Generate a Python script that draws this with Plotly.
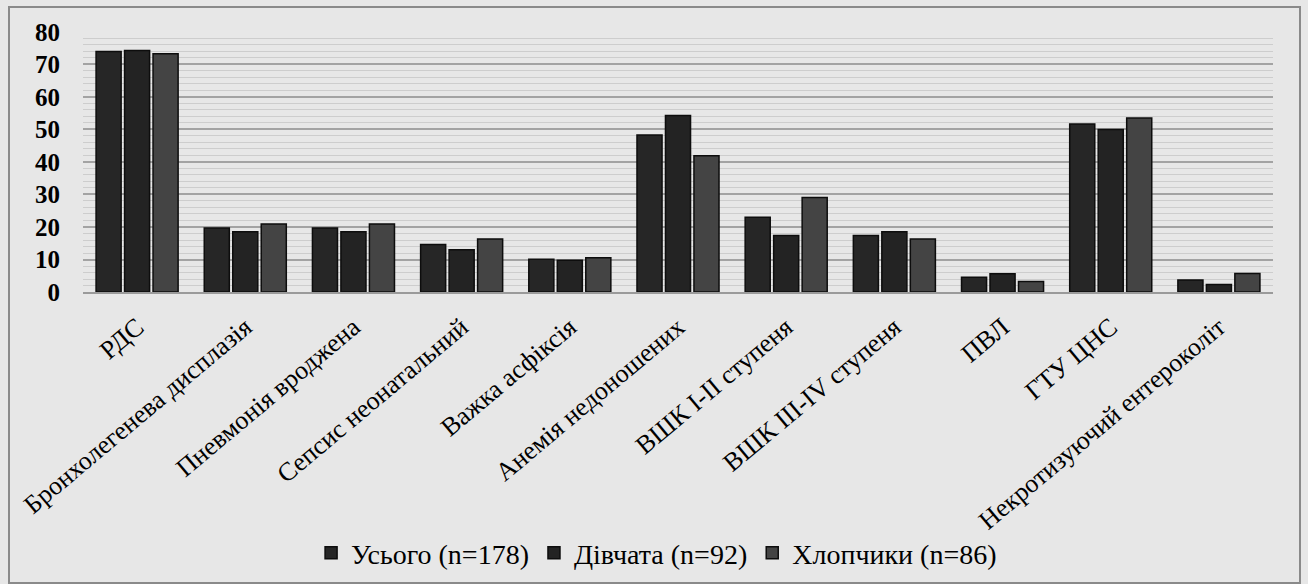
import plotly.graph_objects as go

categories = [
    "РДС",
    "Бронхолегенева дисплазія",
    "Пневмонія вроджена",
    "Сепсис неонатальний",
    "Важка асфіксія",
    "Анемія недоношених",
    "ВШК I-II ступеня",
    "ВШК III-IV ступеня",
    "ПВЛ",
    "ГТУ ЦНС",
    "Некротизуючий ентероколіт",
]

total = [74.0, 19.7, 19.7, 14.6, 10.1, 48.3, 23.0, 17.4, 4.5, 51.7, 3.7]
girls = [74.3, 18.5, 18.5, 13.0, 9.8, 54.3, 17.4, 18.5, 5.6, 50.0, 2.3]
boys = [73.3, 20.9, 20.9, 16.3, 10.5, 41.9, 29.1, 16.3, 3.2, 53.5, 5.7]

series_names = ["Усього (n=178)", "Дівчата (n=92)", "Хлопчики (n=86)"]
y_ticks = [0, 10, 20, 30, 40, 50, 60, 70, 80]

series_values = [total, girls, boys]
fills = ["#262626", "#232323", "#444444"]

fig = go.Figure()
for name, vals, col in zip(series_names, series_values, fills):
    fig.add_trace(go.Bar(
        x=categories, y=vals, name=name,
        marker=dict(color=col, line=dict(color="#0d0d0d", width=1.5)),
    ))

bg = "#e7e7e7"
serif = "Liberation Serif, Times New Roman, serif"
fig.update_layout(
    width=1308, height=584,
    margin=dict(l=83, r=35, t=31, b=292, autoexpand=False),
    paper_bgcolor=bg, plot_bgcolor=bg,
    barmode="group", bargap=0.21, bargroupgap=0.12,
    font=dict(family=serif, color="#000000"),
    showlegend=True,
    legend=dict(
        orientation="h", x=0.482, xanchor="center", y=-1.0, yanchor="middle",
        font=dict(size=28, family=serif),
        bgcolor="rgba(0,0,0,0)", itemwidth=30, traceorder="normal",
    ),
)

fig.update_yaxes(
    range=[0, 80.3], tickvals=y_ticks, automargin=False,
    tickfont=dict(size=25, family=serif, weight="bold"),
    showgrid=True, gridcolor="#a3a3a3", gridwidth=1.6,
    minor=dict(dtick=2, showgrid=True, gridcolor="#cdcdcd", gridwidth=1),
    zeroline=False, showline=False, ticks="", ticklabelstandoff=22,
)
fig.update_xaxes(
    tickangle=-40, automargin=False,
    tickfont=dict(size=26, family=serif),
    showline=True, linecolor="#9a9a9a", linewidth=1.5,
    ticks="", ticklabelstandoff=8,
)

# outer frame of the chart
fig.add_shape(
    type="rect", xref="paper", yref="paper",
    x0=(9 - 83) / 1190, x1=(1300 - 83) / 1190,
    y0=(292 - 583) / 261, y1=(292 - 7) / 261,
    line=dict(color="#8a8a8a", width=2), fillcolor="rgba(0,0,0,0)", layer="below",
)

fig.write_html("out.html")
